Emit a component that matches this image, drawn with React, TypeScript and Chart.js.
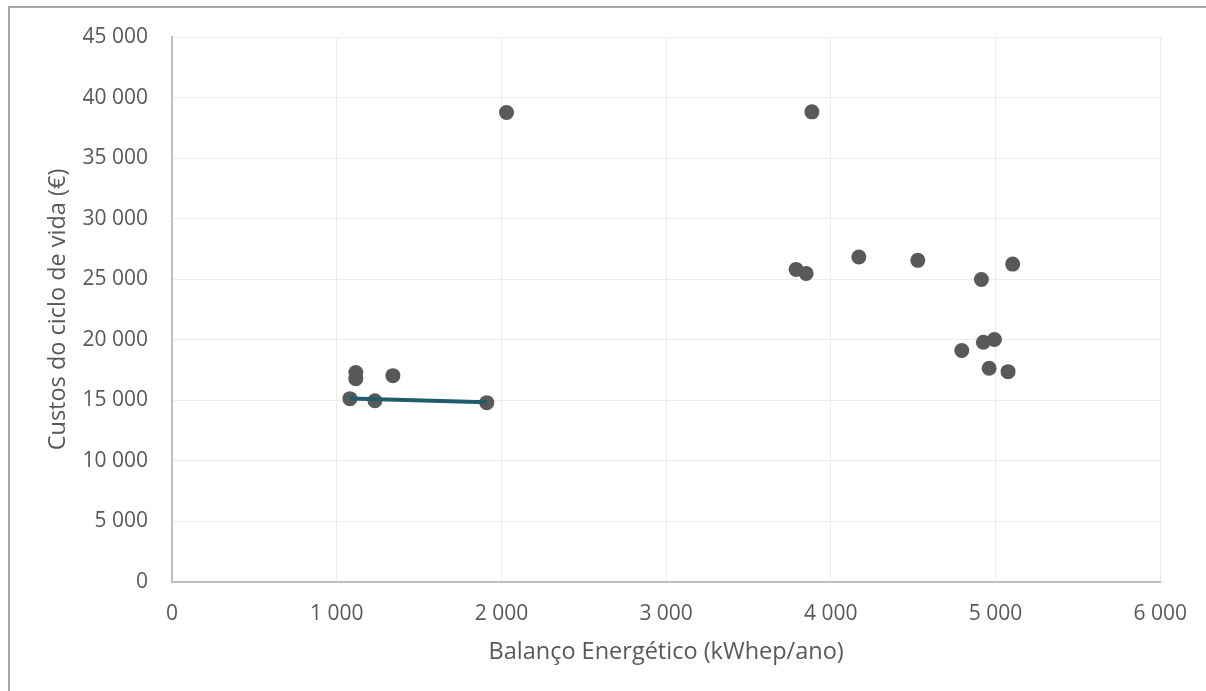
import React, { useEffect, useRef } from "react";
import { Chart, registerables } from "chart.js";

Chart.register(...registerables);

// Balanço Energético (kWhep/ano) vs Custos do ciclo de vida (€)
const pointsX: number[] = [1080, 1116, 1116, 1232, 1341, 1911, 2031, 3789, 3850, 3885, 4170, 4528, 4914, 5104, 4795, 4926, 4993, 4961, 5076];
const pointsY: number[] = [15140, 17290, 16790, 14970, 17040, 14810, 38770, 25810, 25480, 38820, 26830, 26560, 24980, 26250, 19110, 19800, 20020, 17650, 17370];

const lineX: number[] = [1080, 1911];
const lineY: number[] = [15150, 14840];

const xTicks: number[] = [0, 1000, 2000, 3000, 4000, 5000, 6000];
const yTicks: number[] = [0, 5000, 10000, 15000, 20000, 25000, 30000, 35000, 40000, 45000];

const xTitle = "Balanço Energético (kWhep/ano)";
const yTitle = "Custos do ciclo de vida (€)";

const fmt = (v: number) => String(Math.round(v)).replace(/\B(?=(\d{3})+(?!\d))/g, " ");

const FONT = "'Open Sans', sans-serif";
const TEXT = "#595959";

export default function App() {
  const ref = useRef<HTMLCanvasElement | null>(null);
  useEffect(() => {
    if (!ref.current) return;
    const chart = new Chart(ref.current, {
      type: "scatter",
      data: {
        datasets: [
          {
            type: "line",
            label: "trend",
            data: lineX.map((x, i) => ({ x, y: lineY[i] })),
            borderColor: "#225B6A",
            borderWidth: 4,
            pointRadius: 0,
            fill: false,
            order: 0,
          } as any,
          {
            label: "pontos",
            data: pointsX.map((x, i) => ({ x, y: pointsY[i] })),
            backgroundColor: "#595959",
            borderColor: "#595959",
            borderWidth: 0,
            pointRadius: 7.5,
            order: 1,
          },
        ],
      },
      options: {
        animation: false,
        responsive: false,
        maintainAspectRatio: false,
        layout: { padding: { left: 0, top: 37, right: 43, bottom: 0 } },
        plugins: { legend: { display: false }, tooltip: { enabled: false } },
        scales: {
          x: {
            type: "linear",
            min: 0,
            max: 6000,
            afterBuildTicks: (s: any) => {
              s.ticks = xTicks.map((v) => ({ value: v }));
            },
            afterFit: (s: any) => {
              s.height = 109;
            },
            ticks: {
              color: TEXT,
              font: { family: FONT, size: 21 },
              padding: 19,
              callback: (v: any) => fmt(Number(v)),
            },
            grid: { color: "#EBEBEB", lineWidth: 1, drawTicks: false },
            border: { color: "#BFBFBF", width: 2 },
            title: {
              display: true,
              text: xTitle,
              color: TEXT,
              font: { family: FONT, size: 23.5 },
              padding: { top: 0, bottom: 25 },
            },
          },
          y: {
            type: "linear",
            min: 0,
            max: 45000,
            afterBuildTicks: (s: any) => {
              s.ticks = yTicks.map((v) => ({ value: v }));
            },
            afterFit: (s: any) => {
              s.width = 172;
            },
            ticks: {
              color: TEXT,
              font: { family: FONT, size: 21 },
              padding: 24,
              callback: (v: any) => fmt(Number(v)),
            },
            grid: { color: "#EBEBEB", lineWidth: 1, drawTicks: false },
            border: { color: "#BFBFBF", width: 2 },
            title: {
              display: true,
              text: yTitle,
              color: TEXT,
              font: { family: FONT, size: 23.5 },
              padding: { top: 44, bottom: 0 },
            },
          },
        },
      },
    });
    return () => chart.destroy();
  }, []);

  return (
    <div style={{ position: "fixed", left: 0, top: 0, width: 1206, height: 691, background: "#fff", overflow: "hidden" }}>
      <div
        style={{
          position: "absolute",
          left: 8,
          top: 6,
          width: 1300,
          height: 800,
          borderTop: "2px solid #A6A6A6",
          borderLeft: "2px solid #A6A6A6",
        }}
      />
      <canvas ref={ref} width={1206} height={691} style={{ position: "absolute", left: 0, top: 0, width: 1206, height: 691 }} />
    </div>
  );
}
